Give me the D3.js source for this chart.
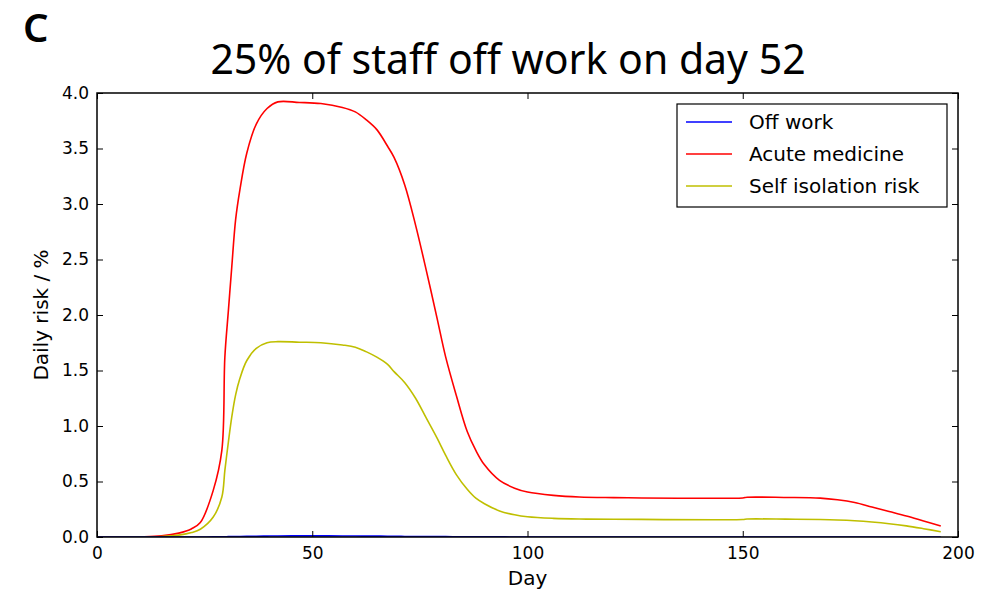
<!DOCTYPE html>
<html>
<head>
<meta charset="utf-8">
<script src="https://cdn.jsdelivr.net/npm/d3@7"></script>
<style>
  body { margin: 0; background: #fff; }
  svg { display: block; }
</style>
</head>
<body>
<svg id="chart" width="985" height="597"></svg>
<script>
// sample days
var days = [0, 10, 15, 19, 22, 24, 27, 29, 29.7, 30.5, 31.3, 32.2, 33.2, 34.8, 37, 39.5, 42, 47, 52, 57, 60, 62.5, 65, 67.5, 69, 71.5, 74, 76.5, 79, 81, 83.5, 86, 88, 90, 93.5, 97, 100, 106, 112, 120, 150, 151, 160, 168, 172, 176, 180, 184, 188, 192, 196];
var offWork = [0, 0, 0, 0, 0, 0, 0.001, 0.002, 0.002, 0.003, 0.003, 0.004, 0.005, 0.006, 0.007, 0.008, 0.009, 0.01, 0.01, 0.009, 0.009, 0.008, 0.008, 0.007, 0.006, 0.005, 0.005, 0.004, 0.003, 0.003, 0.002, 0.002, 0.001, 0.001, 0.001, 0, 0, 0, 0, 0, 0, 0, 0, 0, 0, 0, 0, 0, 0, 0, 0];
var acuteMedicine = [0, 0.002, 0.01, 0.035, 0.075, 0.13, 0.42, 0.78, 1.62, 2.03, 2.43, 2.86, 3.13, 3.46, 3.72, 3.86, 3.92, 3.915, 3.905, 3.87, 3.83, 3.76, 3.67, 3.52, 3.42, 3.17, 2.81, 2.4, 1.97, 1.62, 1.27, 0.95, 0.78, 0.65, 0.51, 0.44, 0.405, 0.375, 0.36, 0.355, 0.352, 0.358, 0.356, 0.35, 0.335, 0.31, 0.27, 0.23, 0.19, 0.145, 0.1];
var selfIsolation = [0, 0.001, 0.005, 0.017, 0.04, 0.07, 0.18, 0.36, 0.6, 0.85, 1.08, 1.28, 1.43, 1.59, 1.7, 1.75, 1.76, 1.755, 1.75, 1.73, 1.71, 1.67, 1.62, 1.555, 1.49, 1.39, 1.25, 1.07, 0.89, 0.735, 0.56, 0.43, 0.35, 0.3, 0.235, 0.2, 0.182, 0.168, 0.162, 0.16, 0.158, 0.162, 0.161, 0.157, 0.153, 0.146, 0.135, 0.12, 0.1, 0.075, 0.048];

var seriesNames = ["Off work", "Acute medicine", "Self isolation risk"];
var seriesColors = ["#0000ff", "#ff0000", "#bfbf00"];
var xTicks = [0, 50, 100, 150, 200];
var yTicks = [0, 0.5, 1, 1.5, 2, 2.5, 3, 3.5, 4];

var svg = d3.select("#chart");
var pLeft = 97, pRight = 958, pTop = 93, pBottom = 537;

var x = d3.scaleLinear().domain([0, 200]).range([pLeft, pRight]);
var y = d3.scaleLinear().domain([0, 4]).range([pBottom, pTop]);

var tickFont = "DejaVu Sans, sans-serif";

// panel letter and title
svg.append("text").attr("x", 23).attr("y", 42)
  .style("font-family", "Noto Sans, sans-serif").style("font-size", "40px").style("font-weight", "600")
  .text("C");
svg.append("text").attr("x", 508).attr("y", 74).attr("text-anchor", "middle")
  .style("font-family", "Noto Sans, sans-serif").style("font-size", "41px")
  .text("25% of staff off work on day 52");

// lines
var allSeries = [offWork, acuteMedicine, selfIsolation];
var line = d3.line()
  .x(function(d) { return x(d[0]); })
  .y(function(d) { return y(d[1]); })
  .curve(d3.curveCatmullRom.alpha(0.5));

var plot = svg.append("g");
plot.append("clipPath").attr("id", "clip").append("rect")
  .attr("x", pLeft).attr("y", pTop).attr("width", pRight - pLeft).attr("height", pBottom - pTop);

[1, 2, 0].forEach(function(i) {
  var pts = days.map(function(d, j) { return [d, allSeries[i][j]]; });
  plot.append("path")
    .attr("d", line(pts))
    .attr("fill", "none")
    .attr("stroke", seriesColors[i])
    .attr("stroke-width", 1.6)
    .attr("clip-path", "url(#clip)");
});

// axes with inward ticks, matplotlib style
var xAxis = svg.append("g").attr("transform", "translate(0," + pBottom + ")")
  .call(d3.axisBottom(x).tickValues(xTicks).tickSize(-6).tickPadding(10).tickFormat(d3.format("d")));
var yAxis = svg.append("g").attr("transform", "translate(" + pLeft + ",0)")
  .call(d3.axisLeft(y).tickValues(yTicks).tickSize(-6).tickPadding(8).tickFormat(d3.format(".1f")));
var xTop = svg.append("g").attr("transform", "translate(0," + pTop + ")")
  .call(d3.axisTop(x).tickValues(xTicks).tickSize(-6).tickFormat(""));
var yRight = svg.append("g").attr("transform", "translate(" + pRight + ",0)")
  .call(d3.axisRight(y).tickValues(yTicks).tickSize(-6).tickFormat(""));

[xAxis, yAxis, xTop, yRight].forEach(function(g) {
  g.select(".domain").remove();
  g.selectAll("line").attr("stroke", "#000").attr("stroke-width", 1);
  g.selectAll("text").style("font-family", tickFont).style("font-size", "17px").attr("fill", "#000");
});

svg.append("rect").attr("x", pLeft).attr("y", pTop)
  .attr("width", pRight - pLeft).attr("height", pBottom - pTop)
  .attr("fill", "none").attr("stroke", "#000").attr("stroke-width", 1.5);

// axis labels
svg.append("text").attr("x", (pLeft + pRight) / 2).attr("y", 585).attr("text-anchor", "middle")
  .style("font-family", tickFont).style("font-size", "20px").text("Day");
svg.append("text").attr("transform", "translate(48," + ((pTop + pBottom) / 2) + ") rotate(-90)")
  .attr("text-anchor", "middle")
  .style("font-family", tickFont).style("font-size", "20px").text("Daily risk / %");

// legend
var legend = svg.append("g");
legend.append("rect").attr("x", 677).attr("y", 104).attr("width", 270).attr("height", 103)
  .attr("fill", "#fff").attr("stroke", "#000").attr("stroke-width", 1.2);
seriesNames.forEach(function(name, i) {
  var ly = 122 + i * 32;
  legend.append("line").attr("x1", 686).attr("x2", 732).attr("y1", ly).attr("y2", ly)
    .attr("stroke", seriesColors[i]).attr("stroke-width", 1.6);
  legend.append("text").attr("x", 749).attr("y", ly + 7)
    .style("font-family", tickFont).style("font-size", "20px").text(name);
});
</script>
</body>
</html>
